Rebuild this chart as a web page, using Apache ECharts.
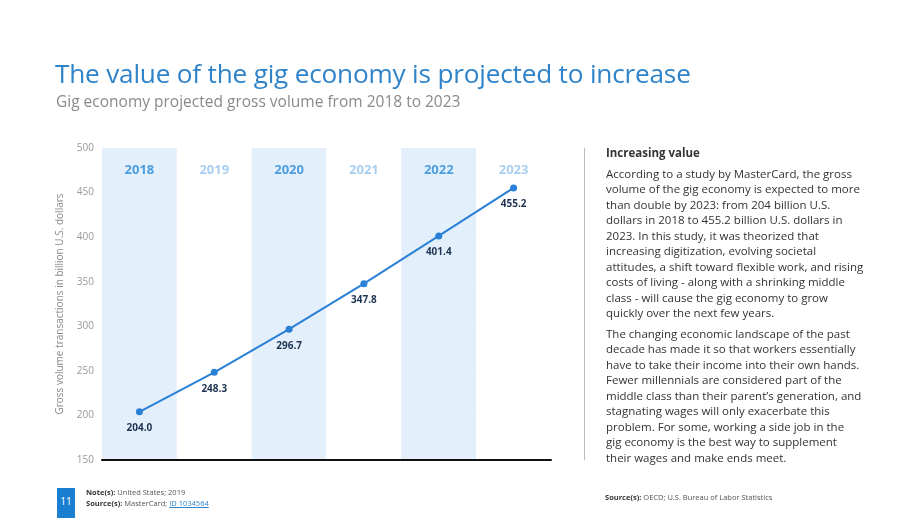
<!DOCTYPE html>
<html>
<head>
<meta charset="utf-8">
<script src="https://cdn.jsdelivr.net/npm/echarts@6/dist/echarts.min.js"></script>
<style>
  body { margin: 0; background: #fff; font-family: "Open Sans", sans-serif; }
  #wrap { position: relative; width: 920px; height: 518px; overflow: hidden; }
  #chart { position: absolute; left: 0; top: 0; width: 920px; height: 518px; }
  .title { position: absolute; left: 55px; top: 55px; font-size: 26.2px; color: #2f83c9; font-weight: 400; letter-spacing: -0.2px; white-space: nowrap; }
  .subtitle { position: absolute; left: 56px; top: 90px; font-size: 15.5px; color: #8a8a8a; white-space: nowrap; }
  .divider { position: absolute; left: 584px; top: 148px; width: 1px; height: 312px; background: #bbb; }
  .side { position: absolute; left: 606px; top: 145px; width: 270px; font-size: 11.5px; line-height: 15.5px; color: #333; white-space: nowrap; }
  .side h4 { margin: 0 0 5px 0; font-size: 11.5px; font-weight: 700; }
  .side p { margin: 0 0 5px 0; }
  .pagenum { position: absolute; left: 57px; top: 488px; width: 18px; height: 30px; background: #1b7fd1; color: #fff; font-size: 10px; text-align: center; line-height: 26px; }
  .notes { position: absolute; left: 86px; top: 487px; font-size: 7.5px; line-height: 11px; color: #555; }
  .notes b, .src b { color: #333; }
  .notes a { color: #2f83c9; text-decoration: underline; }
  .src { position: absolute; left: 605px; top: 492px; font-size: 7.5px; color: #555; }
</style>
</head>
<body>
<div id="wrap">
  <div id="chart"></div>
  <div class="title">The value of the gig economy is projected to increase</div>
  <div class="subtitle">Gig economy projected gross volume from 2018 to 2023</div>
  <div class="divider"></div>
  <div class="side">
    <h4>Increasing value</h4>
    <p>According to a study by MasterCard, the gross<br>volume of the gig economy is expected to more<br>than double by 2023: from 204 billion U.S.<br>dollars in 2018 to 455.2 billion U.S. dollars in<br>2023. In this study, it was theorized that<br>increasing digitization, evolving societal<br>attitudes, a shift toward flexible work, and rising<br>costs of living - along with a shrinking middle<br>class - will cause the gig economy to grow<br>quickly over the next few years.</p>
    <p>The changing economic landscape of the past<br>decade has made it so that workers essentially<br>have to take their income into their own hands.<br>Fewer millennials are considered part of the<br>middle class than their parent’s generation, and<br>stagnating wages will only exacerbate this<br>problem. For some, working a side job in the<br>gig economy is the best way to supplement<br>their wages and make ends meet.</p>
  </div>
  <div class="pagenum">11</div>
  <div class="notes"><b>Note(s):</b> United States; 2019<br><b>Source(s):</b> MasterCard; <a>ID 1034564</a></div>
  <div class="src"><b>Source(s):</b> OECD; U.S. Bureau of Labor Statistics</div>
</div>
<script>
const years = ['2018', '2019', '2020', '2021', '2022', '2023'];
const volume = [204.0, 248.3, 296.7, 347.8, 401.4, 455.2];
const yTicks = { min: 150, max: 500, step: 50 };

const chart = echarts.init(document.getElementById('chart'));
chart.setOption({
    animation: false,
    textStyle: { fontFamily: 'Open Sans' },
    grid: { left: 102, right: 369, top: 148, bottom: 58 },
    xAxis: [
        {
            type: 'category',
            data: years,
            position: 'bottom',
            axisLine: { show: true, lineStyle: { color: '#111', width: 2 } },
            axisTick: { show: false },
            axisLabel: { show: false },
            splitArea: { show: true, areaStyle: { color: ['#e3f0fb', '#ffffff'] } }
        },
        {
            type: 'category',
            data: years,
            position: 'top',
            axisLine: { show: false },
            axisTick: { show: false },
            axisLabel: {
                inside: true,
                margin: 16,
                formatter: (v, i) => (i % 2 === 0 ? '{a|' + v + '}' : '{b|' + v + '}'),
                rich: {
                    a: { color: '#4d9de0', fontWeight: 'bold', fontSize: 13 },
                    b: { color: '#a9cff0', fontWeight: 'bold', fontSize: 13 }
                }
            }
        }
    ],
    yAxis: {
        type: 'value',
        min: yTicks.min,
        max: yTicks.max,
        interval: yTicks.step,
        name: 'Gross volume transactions in billion U.S. dollars',
        nameLocation: 'middle',
        nameGap: 37,
        nameTextStyle: { color: '#888', fontSize: 10 },
        axisLine: { show: false },
        axisTick: { show: false },
        axisLabel: { color: '#999', fontSize: 10, margin: 8 },
        splitLine: { lineStyle: { color: '#ececec' } }
    },
    series: [
        {
            type: 'line',
            xAxisIndex: 0,
            data: volume,
            symbol: 'circle',
            symbolSize: 7,
            itemStyle: { color: '#2a7fd6' },
            lineStyle: { color: '#2a7fd6', width: 2 },
            label: {
                show: true,
                position: 'bottom',
                distance: 8,
                color: '#1e3352',
                fontWeight: 'bold',
                fontSize: 10,
                formatter: p => p.value.toFixed(1)
            }
        }
    ]
});
</script>
</body>
</html>
